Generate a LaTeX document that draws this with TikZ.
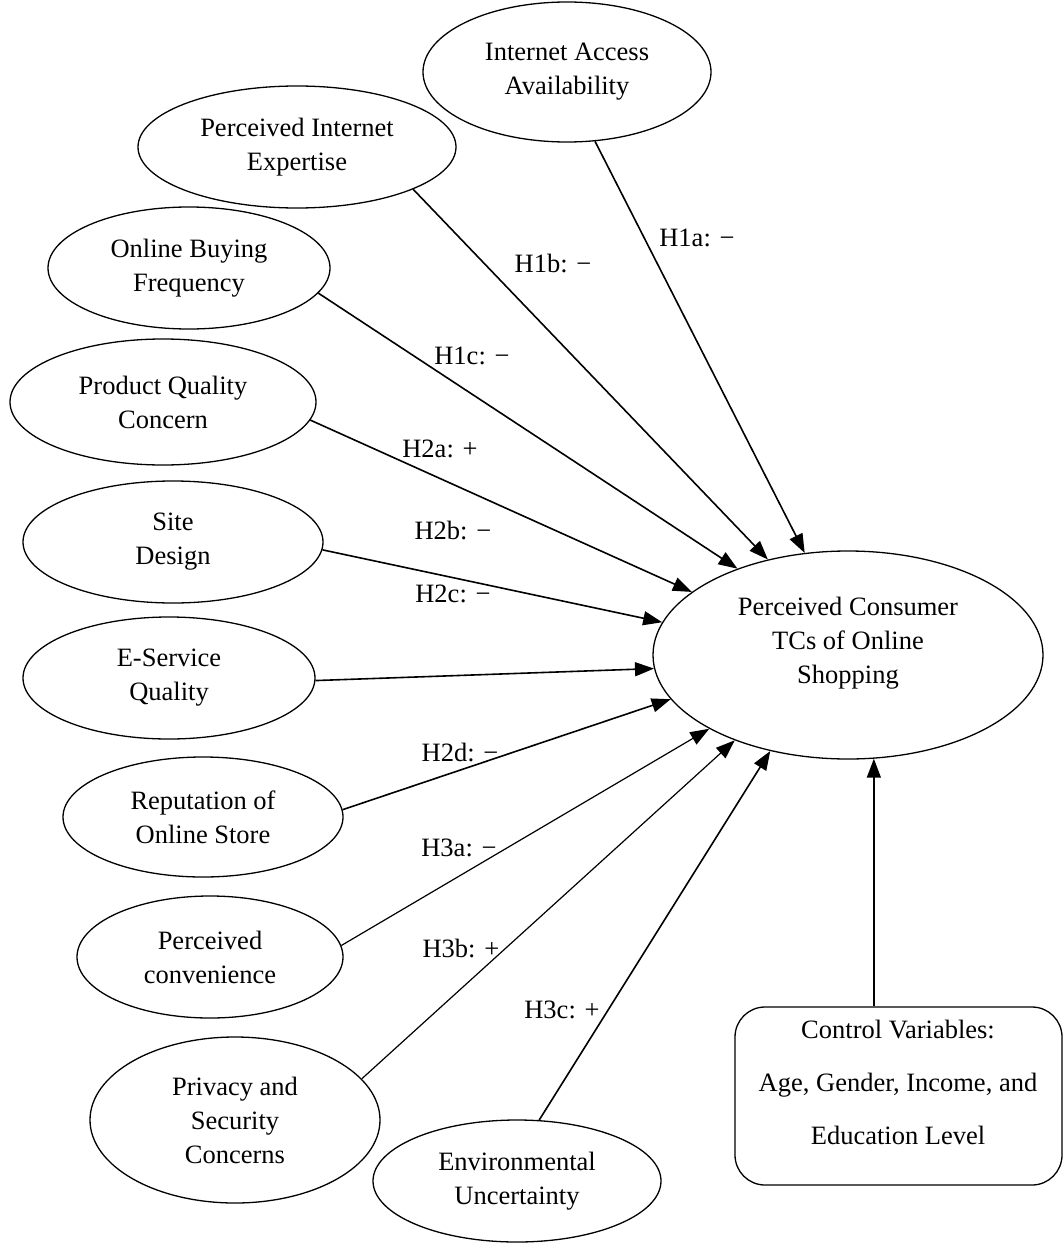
\documentclass[tikz,border=0pt]{standalone}
\usepackage{fontspec}
\setmainfont{Liberation Serif}
\usetikzlibrary{shapes.geometric,arrows.meta}
\begin{document}
\begin{tikzpicture}[x=1pt,y=-1pt,
  every node/.style={font=\fontsize{26.5}{34}\selectfont},
  ell/.style={ellipse,draw,line width=1.3pt,inner sep=0pt,align=center},
  link/.style={-{Triangle[length=19pt,width=14pt]},line width=1.6pt},
  thinlink/.style={link,line width=1.2pt},
  hyp/.style={inner sep=0pt}]
\useasboundingbox (0,0) rectangle (1063,1244);

% antecedent constructs
\node[ell,minimum width=288pt,minimum height=140pt] (IA)  at (567,72)   {Internet Access\\Availability};
\node[ell,minimum width=318pt,minimum height=122pt] (PIE) at (297,147)  {Perceived Internet\\Expertise};
\node[ell,minimum width=282pt,minimum height=122pt] (OBF) at (189,268)  {Online Buying\\Frequency};
\node[ell,minimum width=306pt,minimum height=126pt] (PQC) at (163,402)  {Product Quality\\Concern};
\node[ell,minimum width=300pt,minimum height=122pt] (SD)  at (173,542)  {Site\\Design};
\node[ell,minimum width=292pt,minimum height=122pt] (ESQ) at (169,678)  {E-Service\\Quality};
\node[ell,minimum width=280pt,minimum height=120pt] (ROS) at (203,817)  {Reputation of\\Online Store};
\node[ell,minimum width=266pt,minimum height=122pt] (PC)  at (210,957)  {Perceived\\convenience};
\node[ell,minimum width=290pt,minimum height=166pt] (PSC) at (235,1120) {Privacy and\\Security\\Concerns};
\node[ell,minimum width=288pt,minimum height=122pt] (EU)  at (517,1181) {Environmental\\Uncertainty};

% outcome construct
\node[ell,minimum width=390pt,minimum height=208pt] (TC) at (848,655) {};
\node[align=center] (TCtext) at (848,643) {Perceived Consumer\\TCs of Online\\Shopping};

% control variables
\node[draw,line width=1.3pt,rounded corners=30pt,minimum width=327pt,minimum height=178pt,inner sep=0pt] (CV) at (898.5,1096) {};
\node[align=center,font=\fontsize{26.5}{53}\selectfont] (CVtext) at (898,1082) {Control Variables:\\Age, Gender, Income, and\\Education Level};

% hypothesised paths
\draw[link] (IA.-68) -- (TC.113);
\draw[link] (PIE.-20) -- (TC.130);
\draw[link] (OBF.-11) -- (TC.142);
\draw[link] (PQC.-7) -- (TC.158);
\draw[link] (SD.-3) -- (TC.170);
\draw[link] (ESQ.-1) -- (TC.184);
\draw[link] (ROS.3) -- (TC.194);
\draw[thinlink] (PC.5) -- (TC.208);
\draw[thinlink] (PSC.18) -- (TC.217);
\draw[link] (EU.70) -- (TC.231);
\draw[link] (CV.north -| TC.-76) -- (TC.-76);

% path labels
\node[hyp] (l1a) at (697,238) {H1a: −};
\node[hyp] (l1b) at (553,263) {H1b: −};
\node[hyp] (l1c) at (472,356) {H1c: −};
\node[hyp] (l2a) at (440,449) {H2a: +};
\node[hyp] (l2b) at (453,530) {H2b: −};
\node[hyp] (l2c) at (453,594) {H2c: −};
\node[hyp] (l2d) at (460,752) {H2d: −};
\node[hyp] (l3a) at (459,848) {H3a: −};
\node[hyp] (l3b) at (461,948) {H3b: +};
\node[hyp] (l3c) at (562,1010) {H3c: +};
\end{tikzpicture}
\end{document}
